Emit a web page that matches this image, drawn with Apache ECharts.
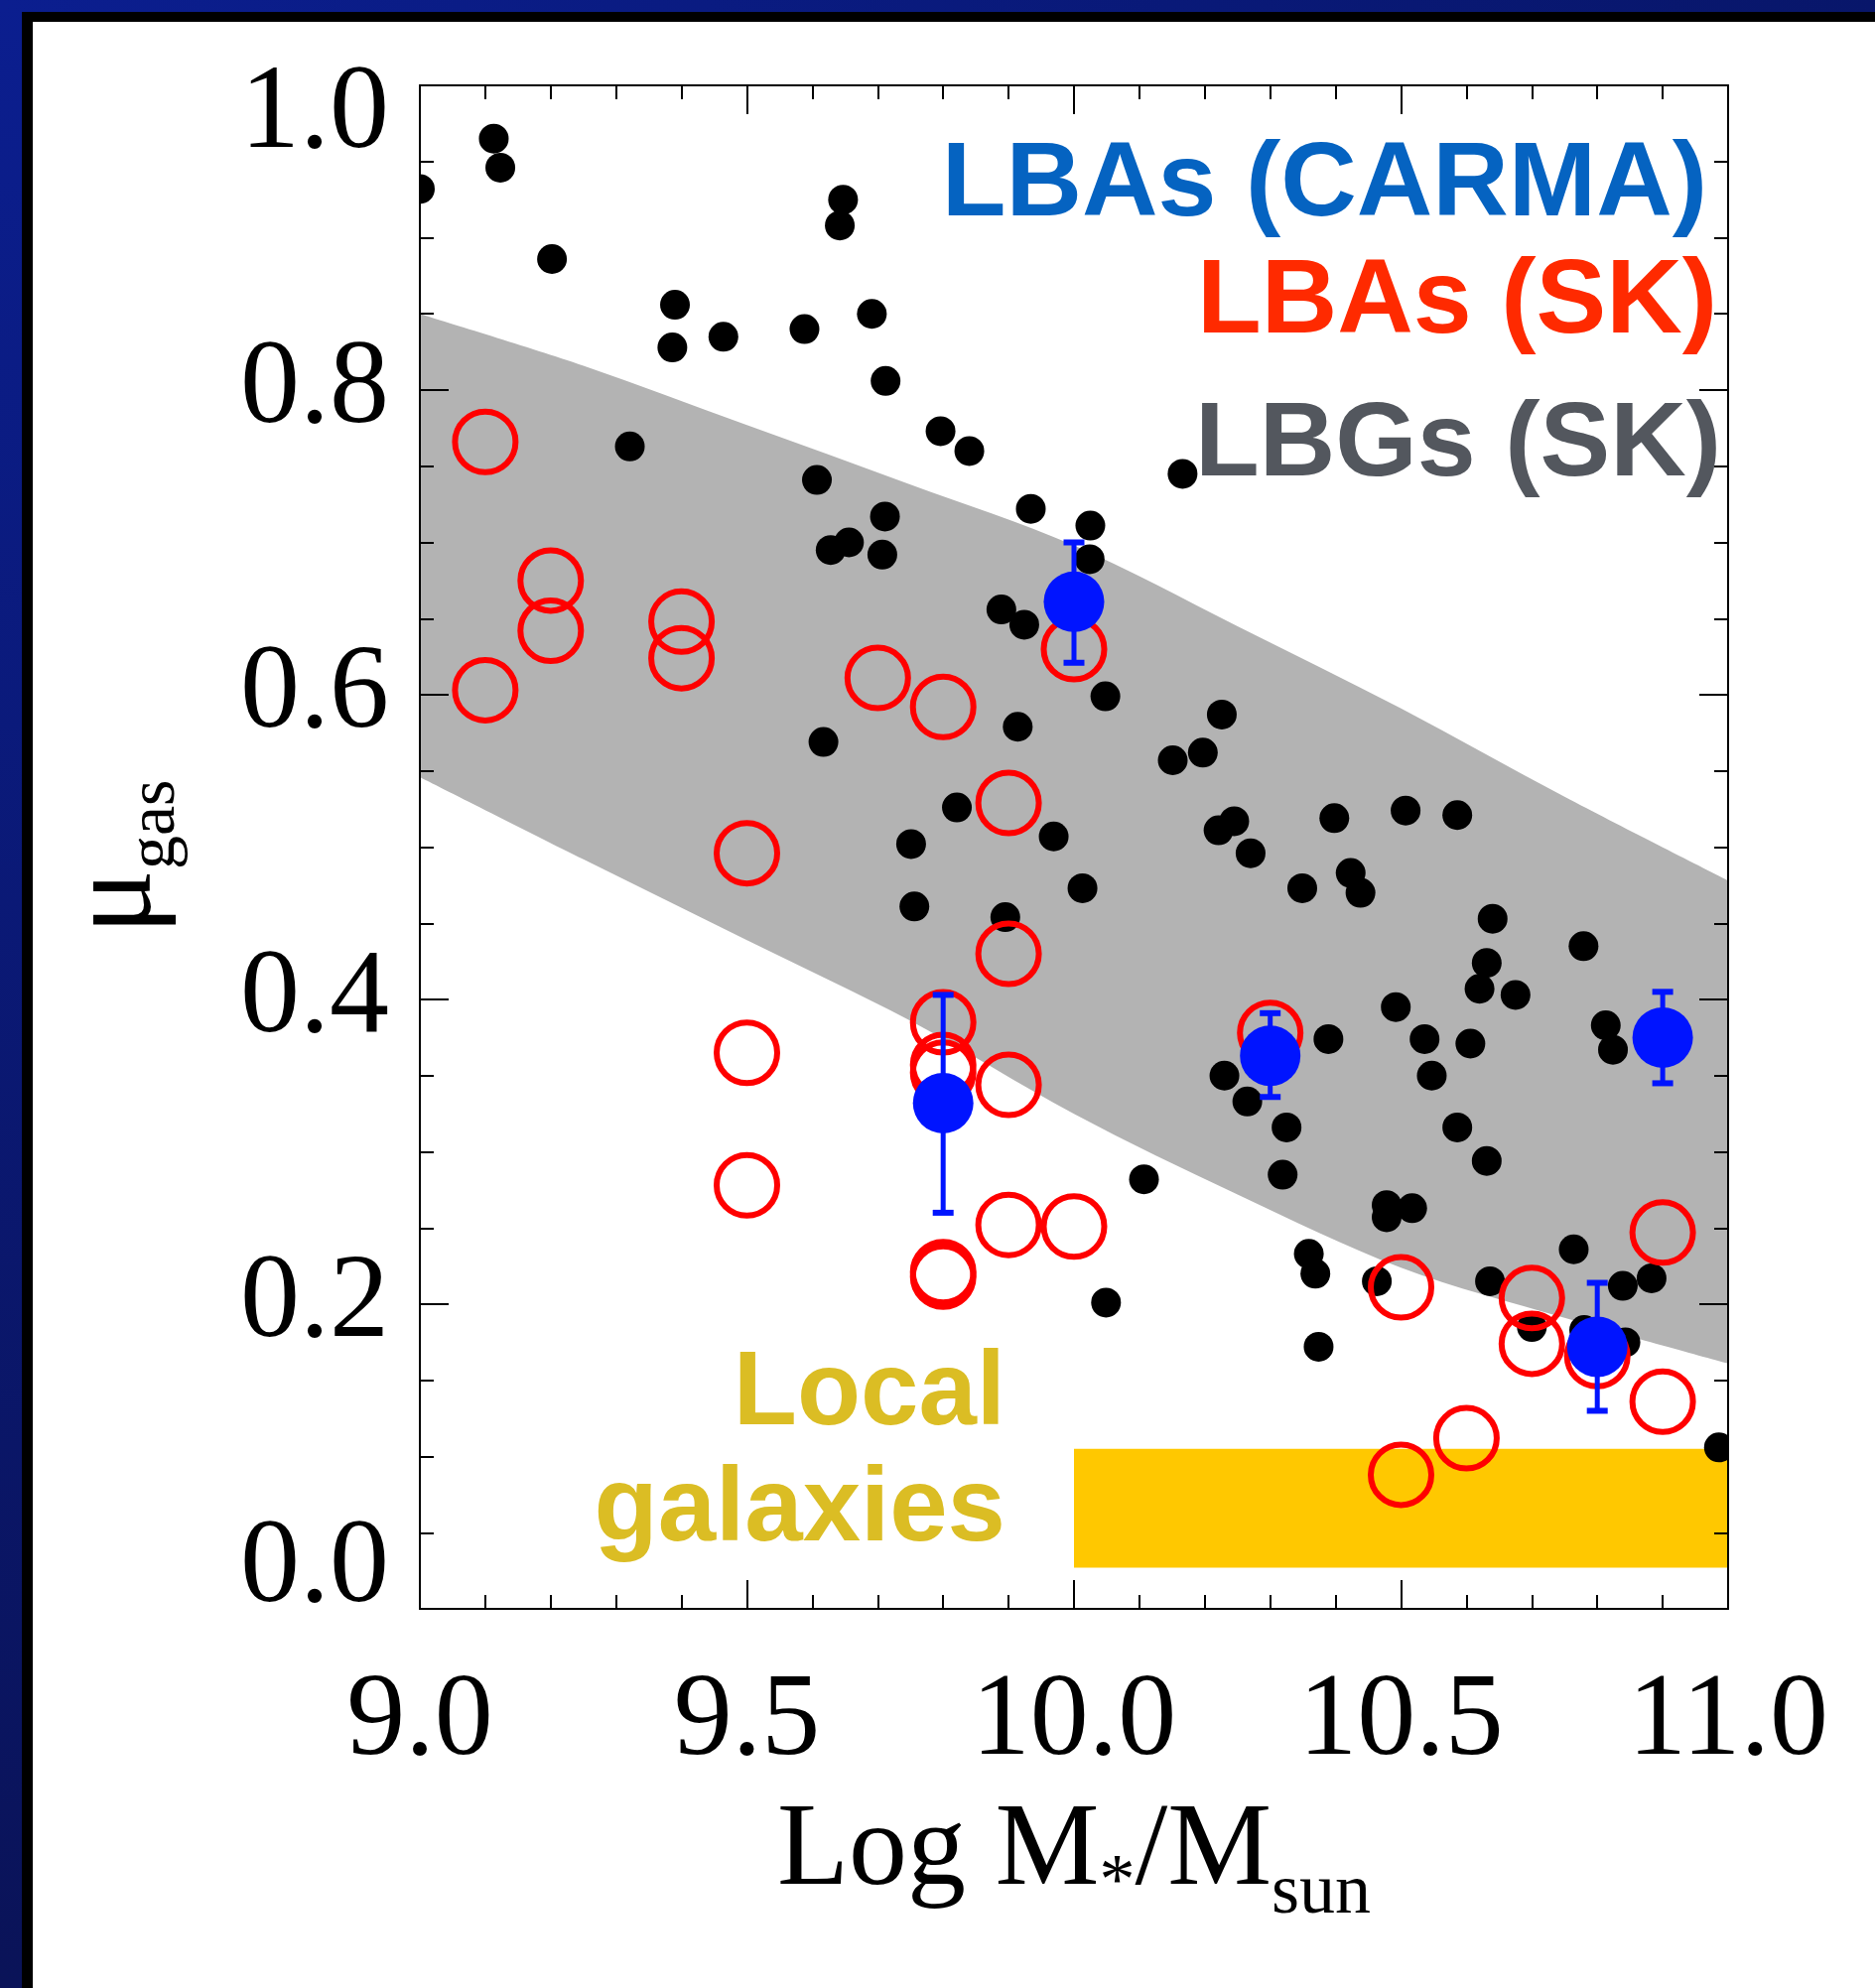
<!DOCTYPE html>
<html>
<head>
<meta charset="utf-8">
<script src="https://cdn.jsdelivr.net/npm/echarts@6/dist/echarts.min.js"></script>
<style>
html, body { margin: 0; padding: 0; background: #ffffff; }
#chart { width: 1889px; height: 2003px; }
</style>
</head>
<body>
<div id="chart"></div>
<script>
// ---------------- data ----------------
const xTicks = [9.0, 9.5, 10.0, 10.5, 11.0];
const yTicks = [0.0, 0.2, 0.4, 0.6, 0.8, 1.0];

// LBGs (SK) - black dots [log M*, mu_gas]
const lbgPoints = [
  [9.000,0.932],[9.113,0.965],[9.123,0.946],[9.202,0.886],[9.321,0.763],[9.390,0.856],
  [9.386,0.828],[9.464,0.835],[9.588,0.840],[9.647,0.925],[9.642,0.908],[9.691,0.850],
  [9.712,0.806],[9.796,0.773],[9.840,0.760],[9.607,0.741],[9.711,0.717],[9.628,0.695],
  [9.656,0.700],[9.707,0.692],[9.934,0.722],[10.025,0.711],[10.024,0.689],[10.166,0.745],
  [9.889,0.656],[9.924,0.646],[10.048,0.599],[9.914,0.579],[9.617,0.569],[10.226,0.587],
  [10.197,0.562],[10.151,0.557],[9.821,0.526],[9.751,0.502],[9.756,0.461],[9.895,0.454],
  [9.969,0.507],[10.013,0.473],[10.245,0.517],[10.221,0.511],[10.270,0.496],[10.398,0.519],
  [10.507,0.524],[10.586,0.521],[10.349,0.473],[10.423,0.483],[10.438,0.470],[10.640,0.453],
  [10.779,0.435],[10.631,0.424],[10.620,0.407],[10.675,0.403],[10.492,0.395],[10.389,0.374],
  [10.536,0.374],[10.606,0.371],[10.547,0.350],[10.813,0.383],[10.824,0.367],[10.230,0.350],
  [10.265,0.333],[10.325,0.316],[10.319,0.285],[10.586,0.316],[10.631,0.294],[10.107,0.282],
  [10.478,0.265],[10.517,0.263],[10.478,0.257],[10.359,0.233],[10.369,0.220],[10.463,0.215],
  [10.636,0.215],[10.764,0.236],[10.839,0.212],[10.883,0.217],[10.700,0.185],[10.843,0.175],
  [10.780,0.183],[10.049,0.201],[10.374,0.172],[10.986,0.106]
];

// LBAs (SK) - red open circles
const lbaSkPoints = [
  [9.1,0.766],[9.2,0.675],[9.2,0.642],[9.1,0.603],[9.4,0.648],[9.4,0.624],[9.5,0.496],
  [9.5,0.365],[9.5,0.278],[9.7,0.611],[9.8,0.592],[9.9,0.529],[9.9,0.430],[9.8,0.385],
  [9.8,0.357],[9.8,0.352],[9.9,0.344],[9.8,0.221],[9.8,0.218],[9.9,0.252],[10.0,0.251],
  [10.0,0.630],[10.3,0.378],[10.5,0.211],[10.5,0.088],[10.6,0.112],[10.7,0.204],[10.7,0.174],
  [10.8,0.166],[10.9,0.247],[10.9,0.136]
];

// LBAs (CARMA) - blue filled circles with error bars
const carmaX    = [10.0, 9.8, 10.3, 10.8, 10.9];
const carmaY    = [0.661, 0.332, 0.363, 0.172, 0.375];
const carmaLow  = [0.621, 0.260, 0.336, 0.130, 0.345];
const carmaHigh = [0.700, 0.403, 0.391, 0.214, 0.405];

// grey band (upper / lower envelope)
const bandX     = [9.0, 9.25, 9.5, 9.75, 10.0, 10.25, 10.5, 10.75, 11.0];
const bandUpper = [0.850, 0.816, 0.777, 0.738, 0.698, 0.645, 0.591, 0.533, 0.478];
const bandLower = [0.546, 0.492, 0.439, 0.386, 0.325, 0.272, 0.224, 0.191, 0.161];

// local galaxies box [x0, y0, x1, y1]
const localBox = [10.0, 0.027, 11.0, 0.105];

// ---------------- style ----------------
const SERIF = '"Liberation Serif", "Times New Roman", serif';
const SANS = '"Liberation Sans", Arial, sans-serif';
const BLUE = '#0014FF';
const RED = '#FF0000';

const chart = echarts.init(document.getElementById('chart'), null, { renderer: 'canvas' });

// smooth (Catmull-Rom) path segments through pixel points
function splineSegments(pts) {
  let d = '';
  for (let i = 0; i < pts.length - 1; i++) {
    const p0 = pts[Math.max(i - 1, 0)], p1 = pts[i], p2 = pts[i + 1], p3 = pts[Math.min(i + 2, pts.length - 1)];
    const c1 = [p1[0] + (p2[0] - p0[0]) / 6, p1[1] + (p2[1] - p0[1]) / 6];
    const c2 = [p2[0] - (p3[0] - p1[0]) / 6, p2[1] - (p3[1] - p1[1]) / 6];
    d += ' C ' + c1[0] + ' ' + c1[1] + ' ' + c2[0] + ' ' + c2[1] + ' ' + p2[0] + ' ' + p2[1];
  }
  return d;
}

function axisCommon(showLabel) {
  return {
    type: 'value',
    z: 10,
    axisLine: { show: true, onZero: false, lineStyle: { color: '#000', width: 2 } },
    axisTick: { show: true, inside: true, length: 29, lineStyle: { color: '#000', width: 2 } },
    minorTick: { show: true, length: 14, lineStyle: { color: '#000', width: 2 } },
    splitLine: { show: false },
    minorSplitLine: { show: false },
    axisLabel: { show: showLabel }
  };
}

const xBottom = Object.assign(axisCommon(true), {
  position: 'bottom', min: 9, max: 11, interval: 0.5
});
xBottom.minorTick.splitNumber = 5;
xBottom.axisLabel = {
  show: true, margin: 56, color: '#000', fontFamily: SERIF, fontSize: 118,
  showMinLabel: true, showMaxLabel: true,
  formatter: v => { const t = xTicks.find(k => Math.abs(k - v) < 1e-6); return t === undefined ? '' : t.toFixed(1); }
};
xBottom.name = '{m|Log M}{a|*}{m|/M}{s|sun}';
xBottom.nameLocation = 'middle';
xBottom.nameGap = 187;
xBottom.nameMoveOverlap = false;
xBottom.nameTextStyle = {
  rich: {
    m: { fontFamily: SERIF, fontSize: 118, lineHeight: 118, color: '#000', verticalAlign: 'top' },
    a: { fontFamily: SERIF, fontSize: 72, lineHeight: 72, color: '#000', verticalAlign: 'top', padding: [54, 0, 0, 0] },
    s: { fontFamily: SERIF, fontSize: 72, lineHeight: 72, color: '#000', verticalAlign: 'top', padding: [64, 0, 0, 0] }
  }
};

const xTop = Object.assign(axisCommon(false), { position: 'top', min: 9, max: 11, interval: 0.5 });
xTop.minorTick.splitNumber = 5;

const yLeft = Object.assign(axisCommon(true), { position: 'left', min: 0, max: 1, interval: 0.2 });
yLeft.minorTick.splitNumber = 4;
yLeft.axisLabel = {
  show: true, margin: 31, color: '#000',
  showMinLabel: true, showMaxLabel: true,
  formatter: v => {
    const t = yTicks.find(k => Math.abs(k - v) < 1e-6);
    if (t === undefined) return '';
    if (t === 0) return '{lo|' + t.toFixed(1) + '}';
    if (t === 1) return '{hi|' + t.toFixed(1) + '}';
    return '{n|' + t.toFixed(1) + '}';
  },
  rich: {
    n:  { fontFamily: SERIF, fontSize: 120, lineHeight: 120, color: '#000' },
    lo: { fontFamily: SERIF, fontSize: 120, lineHeight: 120, color: '#000', padding: [0, 0, 80, 0] },
    hi: { fontFamily: SERIF, fontSize: 120, lineHeight: 120, color: '#000', padding: [60, 0, 0, 0] }
  }
};
yLeft.name = '{m|μ}{s|gas}';
yLeft.nameLocation = 'middle';
yLeft.nameGap = 243;
yLeft.nameMoveOverlap = false;
yLeft.nameTextStyle = {
  rich: {
    m: { fontFamily: SERIF, fontSize: 122, lineHeight: 122, color: '#000', verticalAlign: 'top' },
    s: { fontFamily: SERIF, fontSize: 68, lineHeight: 68, color: '#000', verticalAlign: 'top', padding: [65, 20, 0, 0] }
  }
};

const yRight = Object.assign(axisCommon(false), { position: 'right', min: 0, max: 1, interval: 0.2 });
yRight.minorTick.splitNumber = 4;

const option = {
  animation: false,
  backgroundColor: 'transparent',
  grid: { left: 423, right: 148, top: 86, bottom: 382, containLabel: false, outerBoundsMode: 'none' },
  xAxis: [xBottom, xTop],
  yAxis: [yLeft, yRight],
  graphic: [
    { type: 'rect', z: -10, silent: true, shape: { x: 0, y: 0, width: 1889, height: 2003 },
      style: { fill: new echarts.graphic.LinearGradient(0, 0, 0, 1, [
        { offset: 0, color: '#0B1E8F' }, { offset: 1, color: '#0A1358' }]) } },
    { type: 'rect', z: -9, silent: true, shape: { x: 0, y: 0, width: 1889, height: 12 },
      style: { fill: new echarts.graphic.LinearGradient(0, 0, 1, 0, [
        { offset: 0, color: '#0B1E8F' }, { offset: 1, color: '#08166A' }]) } },
    { type: 'rect', z: -8, silent: true, shape: { x: 22, y: 12, width: 1867, height: 1991 }, style: { fill: '#000' } },
    { type: 'rect', z: -7, silent: true, shape: { x: 33, y: 22, width: 1856, height: 1981 }, style: { fill: '#fff' } },
    { type: 'text', z: 100, x: 1720, y: 188, style: { text: 'LBAs (CARMA)', fill: '#0563C1',
        font: 'bold 106px ' + SANS, align: 'right', verticalAlign: 'middle' } },
    { type: 'text', z: 100, x: 1730, y: 306, style: { text: 'LBAs (SK)', fill: '#FF2A00',
        font: 'bold 106px ' + SANS, align: 'right', verticalAlign: 'middle' } },
    { type: 'text', z: 100, x: 1734, y: 450, style: { text: 'LBGs (SK)', fill: '#53575E',
        font: 'bold 106px ' + SANS, align: 'right', verticalAlign: 'middle' } },
    { type: 'text', z: 100, x: 1013, y: 1406, style: { text: 'Local', fill: '#DBBD24',
        font: 'bold 105px ' + SANS, align: 'right', verticalAlign: 'middle' } },
    { type: 'text', z: 100, x: 1013, y: 1523, style: { text: 'galaxies', fill: '#DBBD24',
        font: 'bold 105px ' + SANS, align: 'right', verticalAlign: 'middle' } }
  ],
  series: [
    {
      name: 'band', type: 'custom', z: 1, silent: true, clip: true,
      data: [[bandX[0], bandLower[0]]],
      encode: { x: 0, y: 1 },
      renderItem: (params, api) => {
        const up = bandX.map((x, i) => api.coord([x, bandUpper[i]]));
        const lo = bandX.map((x, i) => api.coord([x, bandLower[i]])).reverse();
        let d = 'M ' + up[0][0] + ' ' + up[0][1] + splineSegments(up);
        d += ' L ' + lo[0][0] + ' ' + lo[0][1] + splineSegments(lo) + ' Z';
        return { type: 'path', shape: { pathData: d }, style: { fill: '#B3B3B3', stroke: null } };
      }
    },
    {
      name: 'local', type: 'custom', z: 1, silent: true, clip: true,
      data: [localBox],
      encode: { x: [0, 2], y: [1, 3] },
      renderItem: (params, api) => {
        const p0 = api.coord([api.value(0), api.value(3)]);
        const p1 = api.coord([api.value(2), api.value(1)]);
        return { type: 'rect', shape: { x: p0[0], y: p0[1], width: p1[0] - p0[0], height: p1[1] - p0[1] },
          style: { fill: '#FFC800' } };
      }
    },
    {
      name: 'LBGs (SK)', type: 'custom', z: 3, silent: true, clip: true,
      data: lbgPoints,
      encode: { x: 0, y: 1 },
      renderItem: (params, api) => {
        const p = api.coord([api.value(0), api.value(1)]);
        return { type: 'circle', shape: { cx: p[0], cy: p[1], r: 15 }, style: { fill: '#000' } };
      }
    },
    {
      name: 'LBAs (SK)', type: 'scatter', z: 4, silent: true,
      data: lbaSkPoints,
      symbol: 'circle', symbolSize: 61,
      itemStyle: { color: 'rgba(0,0,0,0)', borderColor: RED, borderWidth: 6, opacity: 1 }
    },
    {
      name: 'CARMA err', type: 'custom', z: 5, silent: true,
      data: carmaX.map((x, i) => [x, carmaLow[i], carmaHigh[i]]),
      encode: { x: 0, y: [1, 2] },
      renderItem: (params, api) => {
        const x = api.value(0);
        const a = api.coord([x, api.value(1)]);
        const b = api.coord([x, api.value(2)]);
        const w = 10.5;
        return { type: 'group', children: [
          { type: 'line', shape: { x1: a[0], y1: a[1], x2: b[0], y2: b[1] }, style: { stroke: BLUE, lineWidth: 5 } },
          { type: 'line', shape: { x1: a[0] - w, y1: a[1], x2: a[0] + w, y2: a[1] }, style: { stroke: BLUE, lineWidth: 6 } },
          { type: 'line', shape: { x1: b[0] - w, y1: b[1], x2: b[0] + w, y2: b[1] }, style: { stroke: BLUE, lineWidth: 6 } }
        ] };
      }
    },
    {
      name: 'LBAs (CARMA)', type: 'scatter', z: 6, silent: true,
      data: carmaX.map((x, i) => [x, carmaY[i]]),
      symbol: 'circle', symbolSize: 61,
      itemStyle: { color: BLUE, opacity: 1 }
    }
  ]
};

chart.setOption(option);
</script>
</body>
</html>
